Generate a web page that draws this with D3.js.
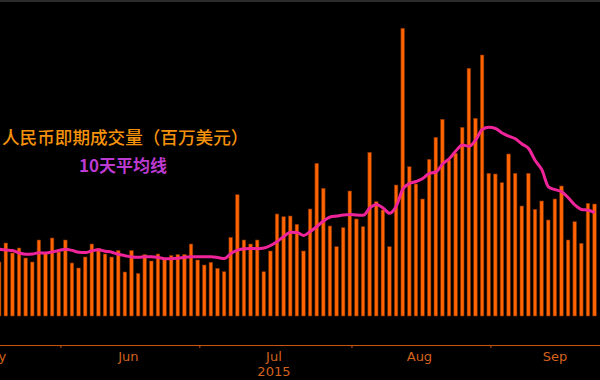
<!DOCTYPE html>
<html>
<head>
<meta charset="utf-8">
<script src="https://cdn.jsdelivr.net/npm/d3@7/dist/d3.min.js"></script>
<style>
  html, body { margin: 0; padding: 0; background: #000; }
  svg { display: block; }
</style>
</head>
<body>
<svg id="chart" width="600" height="380"></svg>
<script>
// ---- Data (CNY spot turnover, USD millions, trading days May 19 – Sep 25, 2015) ----
const mayDays = [19,20,21,22,25,26,27,28,29];
const junDays = [1,2,3,4,5,8,9,10,11,12,15,16,17,18,19,23,24,25,26,29,30];
const julDays = [1,2,3,6,7,8,9,10,13,14,15,16,17,20,21,22,23,24,27,28,29,30,31];
const augDays = [3,4,5,6,7,10,11,12,13,14,17,18,19,20,21,24,25,26,27,28,31];
const sepDays = [1,2,7,8,9,10,11,14,15,16,17,18,21,22,23,24,25];

const volume = [
  5400,7300,6300,6800,5800,5400,7600,6300,7800,
  6400,7600,5300,4800,5900,7200,6750,6200,5900,6550,4400,6550,4250,6150,5500,6200,5700,6050,6150,6150,7200,
  5600,5100,5370,4770,4430,7870,12130,7600,7200,7600,4430,6500,10200,9930,10000,9170,6500,10700,15270,12770,9000,6930,8830,
  12500,9700,8930,16370,11430,10600,6930,13100,28770,14930,13200,11700,15670,17870,19670,15600,16270,18870,24770,19770,26100,
  14270,14200,13330,16200,14270,11000,14270,10670,11500,9600,11700,13000,7600,9430,7270,11270,11200
];

const ma10 = [
  6670,6600,6550,6300,6180,6200,6320,6300,6400,
  6550,6680,6560,6370,6340,6520,6620,6480,6380,6170,6030,5900,5870,5920,5930,5860,5730,5730,5780,5870,5920,
  5930,5930,5920,5850,5750,6250,6580,6730,6750,6730,6800,7050,7450,7950,8370,8350,8050,8450,8950,9500,9900,10000,10100,
  10150,10090,10070,10800,11150,10800,10270,11000,12700,13250,13450,13750,14270,14400,15200,15720,16500,17100,16970,17600,18660,
  18870,18750,18300,17980,17720,17200,16750,15550,14630,12920,12630,12420,11820,11100,10650,10580,10350
];

const monthLabels = ["May","Jun","Jul","Aug","Sep"];
const monthTradingDays = [20,21,23,21,20];
const yearLabel = "2015";
const legendBar = "人民币即期成交量（百万美元）";
const legendLine = "10天平均线";

// ---- Build categories ----
const pad = n => String(n).padStart(2,"0");
const dates = [].concat(
  mayDays.map(d => "2015-05-" + pad(d)),
  junDays.map(d => "2015-06-" + pad(d)),
  julDays.map(d => "2015-07-" + pad(d)),
  augDays.map(d => "2015-08-" + pad(d)),
  sepDays.map(d => "2015-09-" + pad(d))
);
const rows = dates.map((d,i) => ({date: d, vol: volume[i], ma: ma10[i]}));

// ---- Scales ----
const svg = d3.select("#chart");
const W = 600, H = 380;
const baseY = 316, axisY = 345;

const x = d3.scaleBand()
  .domain(dates)
  .range([-3.92, 598.05])
  .paddingInner(0.4)
  .paddingOuter(0.2);
const y = d3.scaleLinear().domain([0, 30000]).range([baseY, 16]);

svg.append("rect").attr("width", W).attr("height", H).attr("fill", "#000");
svg.append("rect").attr("width", W).attr("height", 2).attr("fill", "#2b2b2b");

// ---- Bars ----
svg.append("g").selectAll("rect").data(rows).join("rect")
  .attr("x", d => x(d.date))
  .attr("y", d => y(d.vol))
  .attr("width", x.bandwidth() - 0.4)
  .attr("height", d => y(0) - y(d.vol))
  .attr("fill", "#ff6400")
  .attr("stroke", "#7a2e00")
  .attr("stroke-width", 0.6);

// ---- Moving average line ----
const line = d3.line()
  .x(d => x(d.date) + x.bandwidth()/2)
  .y(d => y(d.ma))
  .curve(d3.curveMonotoneX);
svg.append("path").datum(rows)
  .attr("d", line)
  .attr("fill", "none")
  .attr("stroke", "#f0249a")
  .attr("stroke-width", 3)
  .attr("stroke-linejoin", "round");

// ---- X axis ----
const axisColor = "#c9540f";
const monthStarts = ["2015-06-01","2015-07-01","2015-08-03","2015-09-01"];
const axis = d3.axisBottom(x).tickValues(monthStarts).tickFormat("").tickSize(3).tickSizeOuter(0);
const gAxis = svg.append("g").attr("transform", `translate(0,${axisY})`).call(axis);
gAxis.select(".domain").remove();
gAxis.selectAll(".tick line").attr("stroke", axisColor).attr("transform", `translate(${x.bandwidth()/2},0)`);
gAxis.append("line").attr("x1", 0).attr("x2", W).attr("y1", 0.5).attr("y2", 0.5)
  .attr("stroke", axisColor).attr("stroke-width", 1);

const step = x.step();
const tickPos = monthStarts.map(d => x(d) + x.bandwidth()/2);
const bounds = [tickPos[0] - monthTradingDays[0]*step, ...tickPos, tickPos[3] + monthTradingDays[4]*step];
const labelX = monthLabels.map((m,i) => (bounds[i] + bounds[i+1]) / 2);

svg.append("g").selectAll("text").data(monthLabels).join("text")
  .attr("x", (d,i) => labelX[i])
  .attr("y", 361)
  .attr("text-anchor", "middle")
  .attr("font-family", "DejaVu Sans, sans-serif")
  .attr("font-size", 13)
  .attr("fill", "#d4621e")
  .text(d => d);
svg.append("text")
  .attr("x", labelX[2]).attr("y", 376)
  .attr("text-anchor", "middle")
  .attr("font-family", "DejaVu Sans, sans-serif")
  .attr("font-size", 13)
  .attr("fill", "#d4621e")
  .text(yearLabel);

// ---- Legend texts ----
svg.append("text")
  .attr("x", 2).attr("y", 144)
  .attr("font-family", "Noto Sans CJK SC, sans-serif")
  .attr("font-size", 17.6)
  .attr("font-weight", 500)
  .attr("fill", "#f5920c")
  .text(legendBar);
svg.append("text")
  .attr("x", 79).attr("y", 172)
  .attr("font-family", "Noto Sans CJK SC, sans-serif")
  .attr("font-size", 17)
  .attr("font-weight", "bold")
  .attr("fill", "#bb3bd0")
  .text(legendLine);
</script>
</body>
</html>
